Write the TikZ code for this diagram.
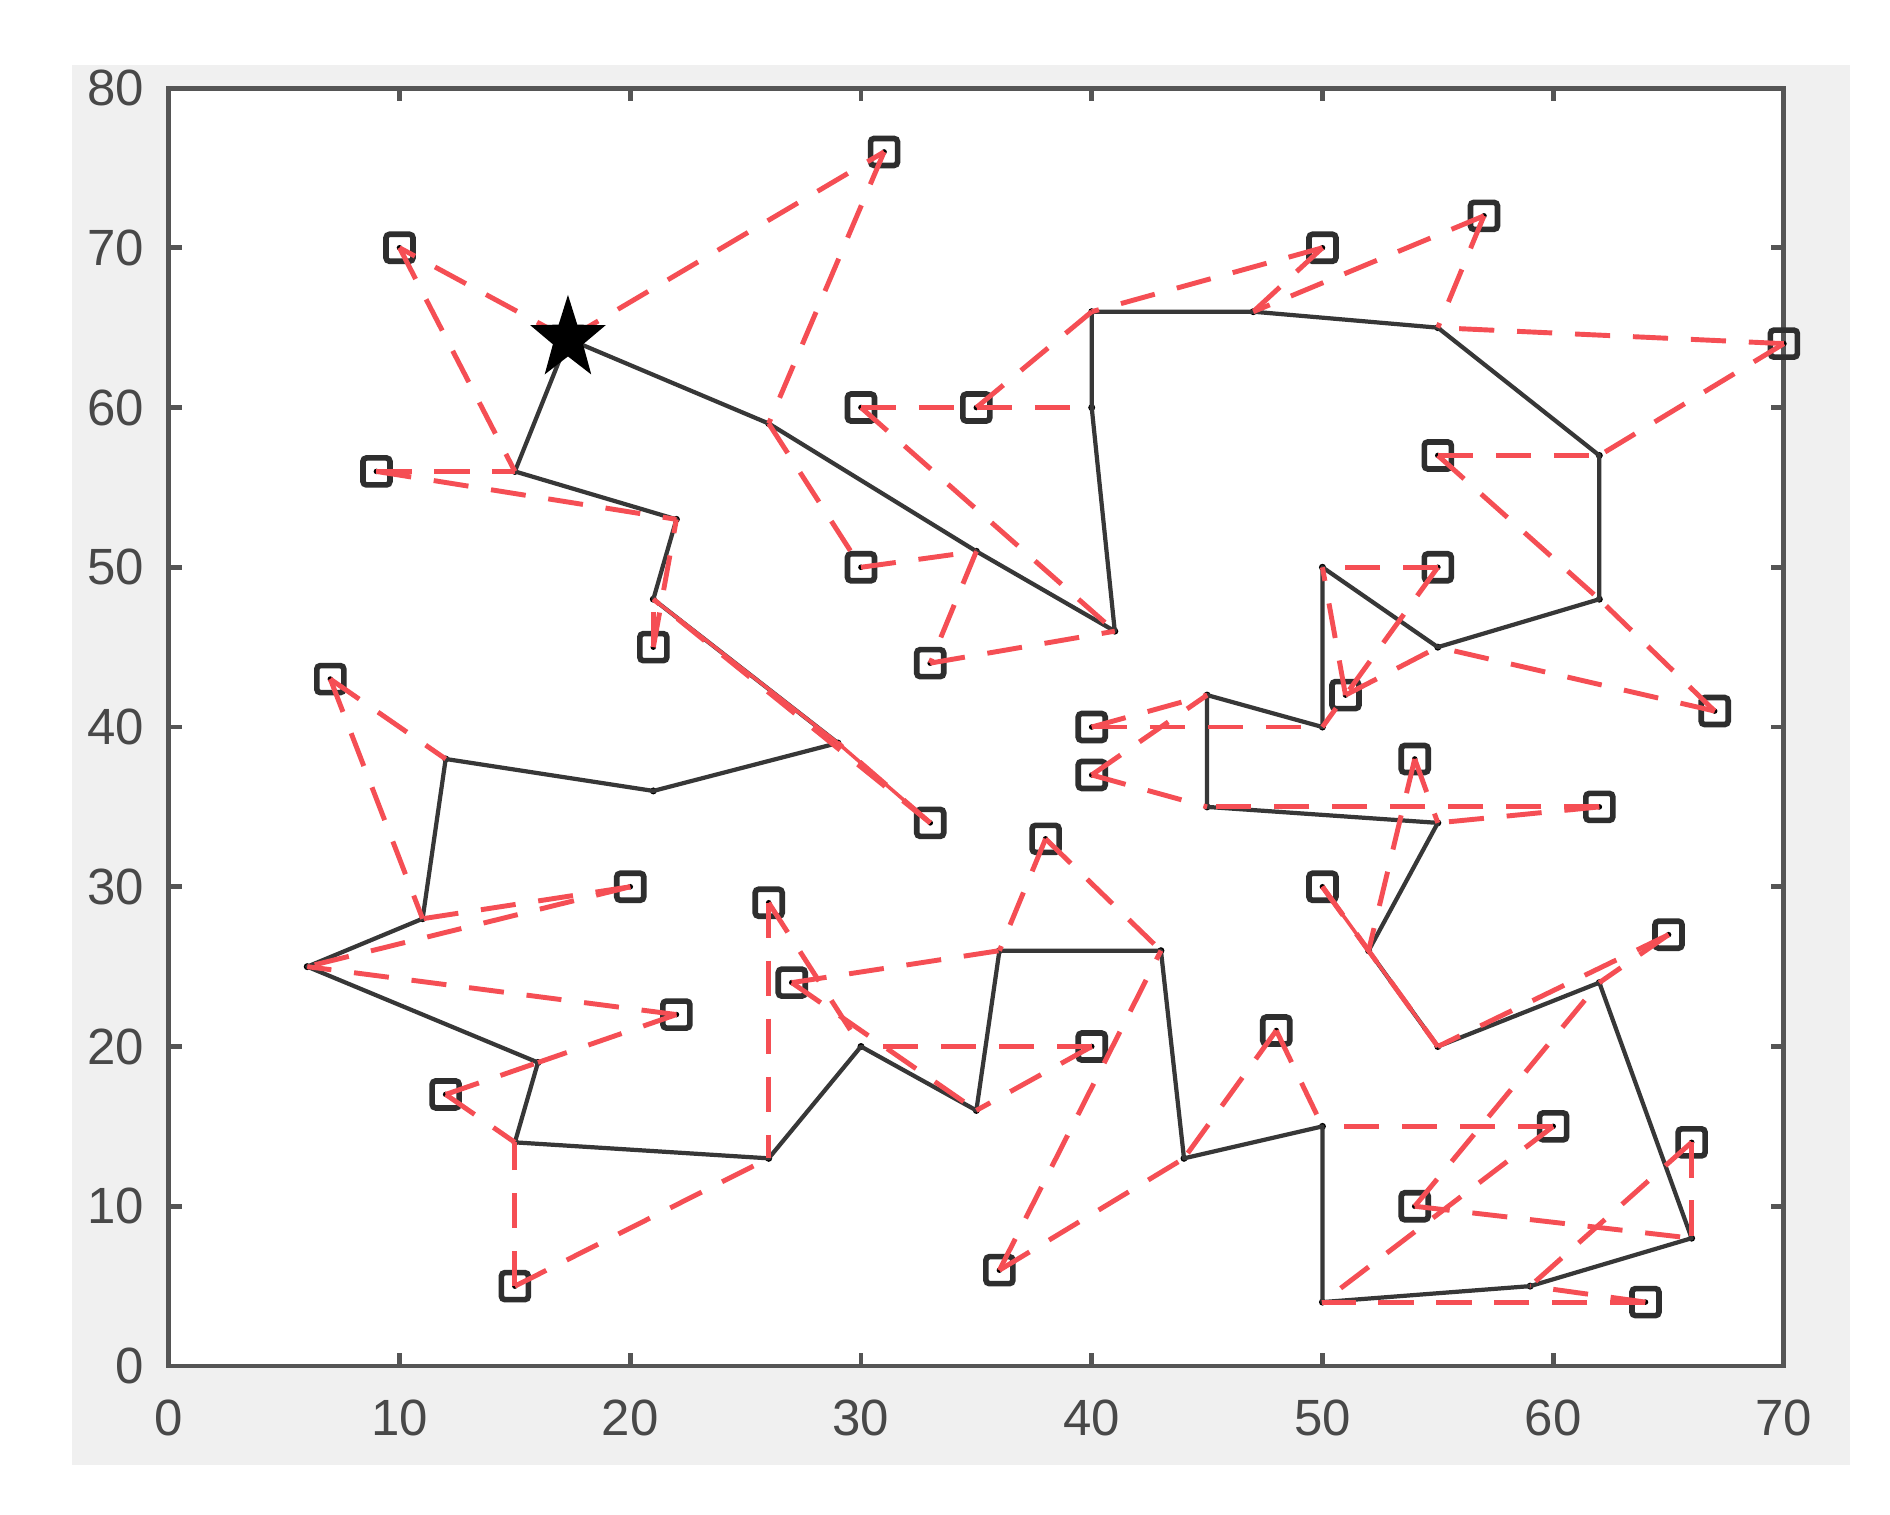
\documentclass[tikz,border=0pt]{standalone}
\usepackage{fontspec}
\setmainfont{Liberation Sans}
\usetikzlibrary{shapes.geometric}
\definecolor{routered}{RGB}{245,78,84}
\definecolor{pathgray}{RGB}{55,55,55}
\definecolor{bggray}{RGB}{240,240,240}
\definecolor{axgray}{RGB}{85,85,85}
\definecolor{labgray}{RGB}{72,72,72}
\tikzset{
  cust/.style={rectangle, draw=black!82, line width=1.6pt, rounded corners=1pt, inner sep=0pt, minimum size=0.27cm},
  vdot/.style={circle, fill=black, inner sep=0pt, minimum size=0.07cm},
  truck/.style={draw=pathgray, line width=1.2pt, line join=round},
  drone/.style={draw=routered, line width=1.4pt, dash pattern=on 10pt off 6.5pt},
  droneover/.style={draw=routered, line width=1pt},
  axisline/.style={draw=axgray, line width=1.4pt},
  ticklab/.style={font=\fontsize{14.5pt}{17pt}\selectfont, text=labgray, inner sep=0pt},
  depotstar/.style={star, star points=5, star point ratio=2.5, fill=black, inner sep=0pt, minimum size=0.88cm}
}
\begin{document}
\begin{tikzpicture}
\useasboundingbox (0,0) rectangle (18.9,15.14);
\fill[white] (0,0) rectangle (18.9,15.14);
\fill[bggray] (0.72,0.49) rectangle (18.50,14.49);
\begin{scope}[shift={(1.688,1.48)}, x=0.23073cm, y=0.15975cm]
\fill[white] (0,0) rectangle (70,80);
% axes box and ticks
\draw[axisline] (0,0) rectangle (70,80);
\foreach \t in {10,20,...,60} {
  \draw[axisline] (\t,0) -- ++(0,0.13cm);
  \draw[axisline] (\t,80) -- ++(0,-0.13cm);
}
\foreach \t in {10,20,...,70} {
  \draw[axisline] (0,\t) -- ++(0.13cm,0);
  \draw[axisline] (70,\t) -- ++(-0.13cm,0);
}
\foreach \t in {0,10,...,70} {
  \node[ticklab, anchor=north] (xl\t) at ([yshift=-0.33cm]\t,0) {\t};
}
\foreach \t in {0,10,...,80} {
  \node[ticklab, anchor=east] (yl\t) at ([xshift=-0.24cm]0,\t) {\t};
}
% depot
\coordinate (dep) at (17.3,64.3);
% customers
\foreach \n/\x/\y in {c10y70/10/70, c31y76/31/76, c9y56/9/56, c30y60/30/60, c35y60/35/60,
  c30y50/30/50, c33y44/33/44, c21y45/21/45, c7y43/7/43, c33y34/33/34, c20y30/20/30,
  c26y29/26/29, c27y24/27/24, c22y22/22/22, c12y17/12/17, c15y5/15/5, c38y33/38/33,
  c40y20/40/20, c36y6/36/6, c40y40/40/40, c40y37/40/37, c50y70/50/70, c57y72/57/72,
  c70y64/70/64, c55y57/55/57, c55y50/55/50, c51y42/51/42, c67y41/67/41, c54y38/54/38,
  c62y35/62/35, c50y30/50/30, c65y27/65/27, c48y21/48/21, c60y15/60/15, c66y14/66/14,
  c54y10/54/10, c64y4/64/4} {
  \node[cust] (\n) at (\x,\y) {};
  \fill[black] (\n.center) circle (0.028cm);
}
% truck vertices
\foreach \n/\x/\y in {v26y59/26/59, v35y51/35/51, v41y46/41/46, v40y60/40/60, v40y66/40/66,
  v47y66/47/66, v55y65/55/65, v62y57/62/57, v62y48/62/48, v55y45/55/45, v50y50/50/50,
  v50y40/50/40, v45y42/45/42, v45y35/45/35, v55y34/55/34, v52y26/52/26, v55y20/55/20,
  v62y24/62/24, v66y8/66/8, v59y5/59/5, v50y4/50/4, v50y15/50/15, v44y13/44/13,
  v43y26/43/26, v36y26/36/26, v35y16/35/16, v30y20/30/20, v26y13/26/13, v15y14/15/14,
  v16y19/16/19, v6y25/6/25, v11y28/11/28, v12y38/12/38, v21y36/21/36, v29y39/29/39,
  v21y48/21/48, v22y53/22/53, v15y56/15/56} {
  \node[vdot] (\n) at (\x,\y) {};
}
% truck route
\draw[truck] (dep) -- (v26y59.center) -- (v35y51.center) -- (v41y46.center) -- (v40y60.center)
  -- (v40y66.center) -- (v47y66.center) -- (v55y65.center) -- (v62y57.center) -- (v62y48.center)
  -- (v55y45.center) -- (v50y50.center) -- (v50y40.center) -- (v45y42.center) -- (v45y35.center)
  -- (v55y34.center) -- (v52y26.center) -- (v55y20.center) -- (v62y24.center) -- (v66y8.center)
  -- (v59y5.center) -- (v50y4.center) -- (v50y15.center) -- (v44y13.center) -- (v43y26.center)
  -- (v36y26.center) -- (v35y16.center) -- (v30y20.center) -- (v26y13.center) -- (v15y14.center)
  -- (v16y19.center) -- (v6y25.center) -- (v11y28.center) -- (v12y38.center) -- (v21y36.center)
  -- (v29y39.center) -- (v21y48.center) -- (v22y53.center) -- (v15y56.center) -- (dep);
% solid-looking red overlaps
\draw[droneover] (v21y48.center) -- (v29y39.center) -- (c33y34.center);
\draw[droneover] (c50y30.center) -- (v52y26.center) -- (v55y20.center);
% drone routes
\foreach \a/\b in {dep/c10y70, c10y70/v15y56, dep/c31y76, c31y76/v26y59, c9y56/v15y56,
  c9y56/v22y53, v26y59/c30y50, c30y50/v35y51, v35y51/c33y44, c33y44/v41y46,
  c30y60/v40y60, c30y60/v41y46, c35y60/v40y66, c21y45/v21y48, c21y45/v22y53,
  c7y43/v12y38, c7y43/v11y28, c33y34/v29y39, c33y34/v21y48, c20y30/v11y28, c20y30/v6y25,
  c22y22/v6y25, c22y22/v16y19, c12y17/v16y19, c12y17/v15y14, c15y5/v15y14, c15y5/v26y13,
  c26y29/v26y13, c26y29/v30y20, c27y24/v36y26, c27y24/v35y16, c38y33/v36y26,
  c38y33/v43y26, c40y20/v30y20, c40y20/v35y16, c36y6/v43y26, c36y6/v44y13,
  c40y40/v45y42, c40y40/v50y40, c40y37/v45y42, c40y37/v45y35, c50y70/v40y66,
  c50y70/v47y66, c57y72/v47y66, c57y72/v55y65, c70y64/v55y65, c70y64/v62y57,
  c55y57/v62y57, c55y57/v62y48, c55y50/v50y50, c55y50/v50y40, c51y42/v50y50,
  c51y42/v55y45, c67y41/v55y45, c67y41/v62y48, c54y38/v55y34, c54y38/v52y26,
  c62y35/v45y35, c62y35/v55y34, c50y30/v52y26, c50y30/v55y20, c65y27/v55y20,
  c65y27/v62y24, c48y21/v44y13, c48y21/v50y15, c60y15/v50y15, c60y15/v50y4,
  c54y10/v62y24, c54y10/v66y8, c66y14/v66y8, c66y14/v59y5, c64y4/v59y5, c64y4/v50y4} {
  \draw[drone] (\a.center) -- (\b.center);
}
% depot star
\node[depotstar, transform shape, xscale=0.9] (depot) at (dep) {};
\end{scope}
\end{tikzpicture}
\end{document}
